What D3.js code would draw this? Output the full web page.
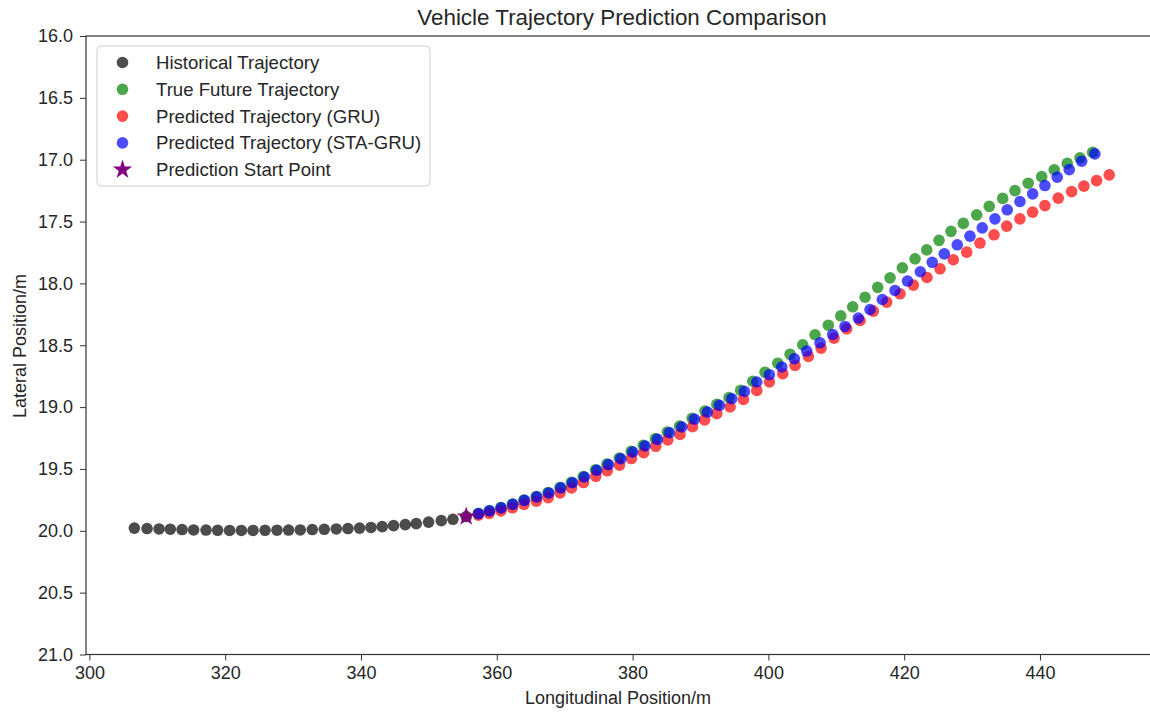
<!DOCTYPE html>
<html>
<head>
<meta charset="utf-8">
<script src="https://cdn.jsdelivr.net/npm/d3@7"></script>
<style>
    body { margin: 0; background: #fff; }
    text { font-family: "Liberation Sans", Arial, sans-serif; fill: #262626; }
</style>
</head>
<body>
<div id="chart"></div>
<script>
// historical trajectory (longitudinal / lateral, m)
var histX = [306.62, 308.49, 310.26, 311.92, 313.65, 315.35, 317.18, 318.89, 320.65, 322.38,
    324.10, 325.87, 327.63, 329.34, 331.06, 332.83, 334.59, 336.36, 338.08, 339.79,
    341.47, 343.13, 344.80, 346.52, 348.14, 349.95, 351.82, 353.54, 355.50];
var histY = [19.978, 19.982, 19.985, 19.987, 19.990, 19.993, 19.994, 19.996, 19.997, 19.997,
    19.997, 19.996, 19.995, 19.994, 19.993, 19.990, 19.988, 19.985, 19.982, 19.978,
    19.973, 19.966, 19.958, 19.950, 19.942, 19.930, 19.918, 19.907, 19.885];

// prediction start point
var startX = 355.50;
var startY = 19.885;

// true future trajectory
var trueX = [357.29, 358.89, 360.60, 362.30, 363.99, 365.80, 367.54, 369.30, 370.99, 372.73,
    374.54, 376.23, 378.04, 379.79, 381.58, 383.37, 385.12, 386.93, 388.77, 390.66,
    392.41, 394.21, 395.91, 397.70, 399.51, 401.38, 403.20, 405.06, 406.87, 408.83,
    410.66, 412.42, 414.24, 416.10, 417.92, 419.73, 421.60, 423.32, 425.13, 426.90,
    428.71, 430.68, 432.53, 434.51, 436.32, 438.27, 440.25, 442.10, 444.02, 445.89, 447.76];
var trueY = [19.860, 19.838, 19.813, 19.784, 19.752, 19.724, 19.691, 19.650, 19.608, 19.561,
    19.507, 19.461, 19.412, 19.358, 19.309, 19.255, 19.201, 19.154, 19.091, 19.032,
    18.978, 18.923, 18.864, 18.791, 18.718, 18.645, 18.573, 18.496, 18.415, 18.338,
    18.262, 18.189, 18.112, 18.032, 17.955, 17.874, 17.801, 17.729, 17.652, 17.579,
    17.515, 17.446, 17.377, 17.313, 17.250, 17.190, 17.137, 17.082, 17.030, 16.985, 16.941];

// GRU prediction
var gruX = [357.29, 358.90, 360.61, 362.31, 364.01, 365.82, 367.57, 369.32, 371.01, 372.77,
    374.58, 376.27, 378.08, 379.83, 381.63, 383.42, 385.18, 386.99, 388.83, 390.61,
    392.40, 394.36, 396.32, 398.29, 400.15, 402.12, 403.93, 405.89, 407.76, 409.67,
    411.54, 413.50, 415.46, 417.43, 419.39, 421.35, 423.35, 425.28, 427.23, 429.21,
    431.16, 433.23, 435.10, 437.05, 438.92, 440.73, 442.69, 444.66, 446.47, 448.34, 450.20];
var gruY = [19.873, 19.859, 19.839, 19.814, 19.786, 19.761, 19.732, 19.694, 19.653, 19.610,
    19.560, 19.515, 19.469, 19.416, 19.369, 19.317, 19.265, 19.221, 19.159, 19.103,
    19.053, 18.999, 18.938, 18.865, 18.797, 18.730, 18.663, 18.590, 18.523, 18.442,
    18.367, 18.300, 18.224, 18.151, 18.084, 18.014, 17.952, 17.882, 17.809, 17.747,
    17.674, 17.607, 17.537, 17.478, 17.424, 17.371, 17.311, 17.258, 17.214, 17.169, 17.123];

// STA-GRU prediction
var staX = [357.31, 358.93, 360.65, 362.37, 364.08, 365.91, 367.67, 369.44, 371.15, 372.91,
    374.74, 376.45, 378.27, 380.04, 381.85, 383.66, 385.43, 387.25, 389.11, 391.02,
    392.79, 394.61, 396.47, 398.29, 400.15, 401.97, 403.83, 405.65, 407.61, 409.48,
    411.29, 413.25, 414.97, 416.78, 418.65, 420.49, 422.38, 424.13, 425.91, 427.82,
    429.69, 431.50, 433.37, 435.18, 437.05, 438.92, 440.73, 442.54, 444.31, 446.14, 448.09];
var staY = [19.861, 19.839, 19.815, 19.786, 19.754, 19.726, 19.694, 19.653, 19.611, 19.565,
    19.511, 19.465, 19.417, 19.363, 19.314, 19.261, 19.207, 19.161, 19.098, 19.040,
    18.986, 18.932, 18.873, 18.797, 18.738, 18.676, 18.609, 18.547, 18.480, 18.413,
    18.348, 18.280, 18.211, 18.130, 18.057, 17.981, 17.906, 17.830, 17.761, 17.688,
    17.618, 17.551, 17.478, 17.405, 17.338, 17.276, 17.209, 17.141, 17.080, 17.012, 16.953];

var xTicks = [300, 320, 340, 360, 380, 400, 420, 440];
var yTicks = [16.0, 16.5, 17.0, 17.5, 18.0, 18.5, 19.0, 19.5, 20.0, 20.5, 21.0];

var legendLabels = ["Historical Trajectory", "True Future Trajectory", "Predicted Trajectory (GRU)",
    "Predicted Trajectory (STA-GRU)", "Prediction Start Point"];

var svgWidth = 1150;
var svgHeight = 713;
var margin = { top: 36, right: -2, bottom: 58.5, left: 86 };
var width = svgWidth - margin.left - margin.right;
var height = svgHeight - margin.top - margin.bottom;

var svg = d3.select("#chart")
    .append("svg")
    .attr("width", svgWidth)
    .attr("height", svgHeight)
    .style("background", "#fff");

var chartGroup = svg.append("g")
    .attr("transform", `translate(${margin.left}, ${margin.top})`);

var xScale = d3.scaleLinear()
    .domain([299.5, 456.5])
    .range([0, width]);
// lateral axis is inverted: 16 at the top
var yScale = d3.scaleLinear()
    .domain([16, 21])
    .range([0, height]);

var bottomAxis = d3.axisBottom(xScale).tickValues(xTicks).tickSize(6).tickPadding(6)
    .tickFormat(d3.format("d"));
var leftAxis = d3.axisLeft(yScale).tickValues(yTicks).tickSize(6).tickPadding(7)
    .tickFormat(d3.format(".1f"));

var xAxisG = chartGroup.append("g")
    .attr("transform", `translate(0, ${height})`)
    .call(bottomAxis);
var yAxisG = chartGroup.append("g")
    .call(leftAxis);

[xAxisG, yAxisG].forEach(function (g) {
    g.select(".domain").remove();
    g.selectAll(".tick line").attr("stroke", "#333").attr("stroke-width", 1);
    g.selectAll(".tick text")
        .style("font-size", "18px")
        .style("font-family", '"Liberation Sans", Arial, sans-serif')
        .attr("fill", "#262626");
});

// frame
chartGroup.append("rect")
    .attr("width", width)
    .attr("height", height)
    .attr("fill", "none")
    .attr("stroke", "#333")
    .attr("stroke-width", 1.2);

function drawDots(xs, ys, color) {
    chartGroup.append("g")
        .selectAll("circle")
        .data(xs)
        .enter()
        .append("circle")
        .attr("cx", d => xScale(d))
        .attr("cy", (d, i) => yScale(ys[i]))
        .attr("r", 5.8)
        .attr("fill", color)
        .attr("fill-opacity", 0.7);
}

drawDots(histX, histY, "#000000");
drawDots(trueX, trueY, "#008000");
drawDots(gruX, gruY, "#ff0000");
drawDots(staX, staY, "#0000ff");

var star = d3.symbol().type(d3.symbolStar).size(115);
chartGroup.append("path")
    .attr("d", star)
    .attr("transform", `translate(${xScale(startX)}, ${yScale(startY)})`)
    .attr("fill", "#800080");

// legend
var legend = chartGroup.append("g")
    .attr("transform", "translate(11, 10)");
legend.append("rect")
    .attr("width", 333)
    .attr("height", 140)
    .attr("rx", 4)
    .attr("fill", "#fff")
    .attr("fill-opacity", 0.8)
    .attr("stroke", "#d0d0d0");

var legendColors = ["#000000", "#008000", "#ff0000", "#0000ff", "#800080"];
legendLabels.forEach(function (label, i) {
    var yPos = 16.5 + i * 26.8;
    if (i < 4) {
        legend.append("circle")
            .attr("cx", 25.5)
            .attr("cy", yPos)
            .attr("r", 5.8)
            .attr("fill", legendColors[i])
            .attr("fill-opacity", 0.7);
    } else {
        legend.append("path")
            .attr("d", star)
            .attr("transform", `translate(25.5, ${yPos})`)
            .attr("fill", legendColors[i]);
    }
    legend.append("text")
        .attr("x", 59)
        .attr("y", yPos)
        .attr("dy", "0.35em")
        .style("font-size", "18.6px")
        .text(label);
});

// title and axis labels
svg.append("text")
    .attr("x", 622)
    .attr("y", 25)
    .attr("text-anchor", "middle")
    .style("font-size", "22.4px")
    .text("Vehicle Trajectory Prediction Comparison");

svg.append("text")
    .attr("x", 618)
    .attr("y", 704)
    .attr("text-anchor", "middle")
    .style("font-size", "18px")
    .text("Longitudinal Position/m");

svg.append("text")
    .attr("transform", "rotate(-90)")
    .attr("x", -346)
    .attr("y", 26)
    .attr("text-anchor", "middle")
    .style("font-size", "18px")
    .text("Lateral Position/m");
</script>
</body>
</html>
